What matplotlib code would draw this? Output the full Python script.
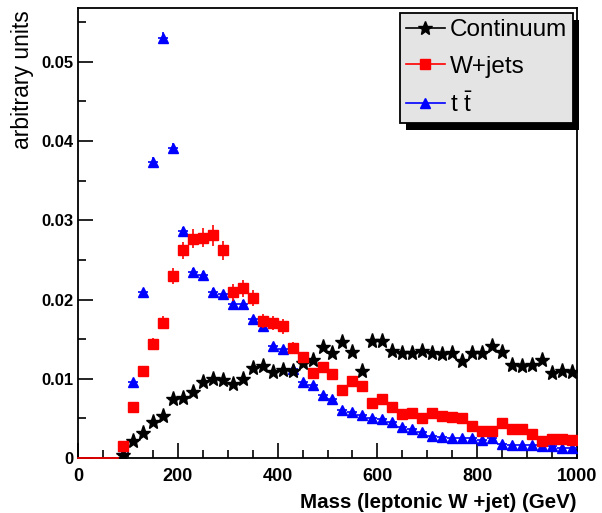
import numpy as np
import matplotlib
matplotlib.use("Agg")
import matplotlib.pyplot as plt
from matplotlib.lines import Line2D
from matplotlib.patches import Rectangle

plt.rcParams['font.family'] = ['Liberation Sans', 'DejaVu Sans']
plt.rcParams['mathtext.fontset'] = 'custom'
plt.rcParams['mathtext.rm'] = 'Liberation Sans'

# 20 GeV bins from 0 to 1000, first four bins are empty
bin_width = 20
mass = np.arange(90, 1000, 20)

continuum = [0.0004, 0.0021, 0.0032, 0.0046, 0.0053, 0.0075, 0.0076, 0.0083, 0.0096, 0.0100,
             0.0099, 0.0093, 0.0100, 0.0114, 0.0116, 0.0109, 0.0111, 0.0110, 0.0120, 0.0124,
             0.0140, 0.0132, 0.0146, 0.0134, 0.0110, 0.0148, 0.0148, 0.0135, 0.0133, 0.0133,
             0.0135, 0.0133, 0.0131, 0.0132, 0.0123, 0.0133, 0.0132, 0.0141, 0.0134, 0.0117,
             0.0116, 0.0117, 0.0124, 0.0107, 0.0110, 0.0109]

wjets = [0.0015, 0.0065, 0.0110, 0.0144, 0.0171, 0.0230, 0.0262, 0.0277, 0.0278, 0.0281,
         0.0262, 0.0209, 0.0214, 0.0202, 0.0173, 0.0170, 0.0166, 0.0139, 0.0127, 0.0107,
         0.0115, 0.0106, 0.0086, 0.0097, 0.0091, 0.0070, 0.0074, 0.0064, 0.0055, 0.0057,
         0.0051, 0.0057, 0.0053, 0.0052, 0.0051, 0.0041, 0.0034, 0.0034, 0.0044, 0.0037,
         0.0036, 0.0030, 0.0022, 0.0024, 0.0024, 0.0023]

wjets_err = [0.0003, 0.0005, 0.0006, 0.0007, 0.0008, 0.0010, 0.0011, 0.0012, 0.0012, 0.0013,
             0.0012, 0.0011, 0.0011, 0.0010, 0.0009, 0.0009, 0.0009, 0.0007, 0.0006, 0.0005,
             0.0005, 0.0005, 0.0004, 0.0004, 0.0004, 0.0004, 0.0003, 0.0003, 0.0003, 0.0003,
             0.0003, 0.0003, 0.0003, 0.0003, 0.0003, 0.0003, 0.0003, 0.0003, 0.0003, 0.0003,
             0.0003, 0.0003, 0.0003, 0.0003, 0.0003, 0.0003]

ttbar = [0.0015, 0.0096, 0.0209, 0.0373, 0.0530, 0.0391, 0.0286, 0.0235, 0.0231, 0.0210,
         0.0207, 0.0195, 0.0195, 0.0175, 0.0167, 0.0142, 0.0138, 0.0112, 0.0096, 0.0092,
         0.0080, 0.0075, 0.0061, 0.0058, 0.0054, 0.0051, 0.0049, 0.0045, 0.0039, 0.0036,
         0.0033, 0.0028, 0.0027, 0.0025, 0.0025, 0.0025, 0.0023, 0.0025, 0.0018, 0.0017,
         0.0016, 0.0016, 0.0015, 0.0015, 0.0013, 0.0012]

ttbar_err = [0.0002, 0.0003, 0.0004, 0.0007, 0.0008, 0.0007, 0.0006, 0.0005, 0.0005, 0.0004,
             0.0004, 0.0004, 0.0004, 0.0003, 0.0003, 0.0003, 0.0003, 0.0003, 0.0003, 0.0003,
             0.0002, 0.0002, 0.0002, 0.0002, 0.0002, 0.0002, 0.0002, 0.0002, 0.0002, 0.0002,
             0.0002, 0.0002, 0.0002, 0.0002, 0.0002, 0.0002, 0.0002, 0.0002, 0.0002, 0.0002,
             0.0002, 0.0002, 0.0002, 0.0002, 0.0002, 0.0002]

fig = plt.figure(figsize=(6.02, 5.13), dpi=100)
ax = fig.add_axes([78/602, 1-458/513, (577-78)/602, (458-8)/513])

# empty bins of the W+jets histogram
ax.plot([0, mass[0] - bin_width/2], [0, 0], color='red', lw=1.2, zorder=6, clip_on=False)

ax.errorbar(mass, ttbar, yerr=ttbar_err, xerr=bin_width/2, fmt='^', color='blue',
            ms=7, elinewidth=1.2, capsize=0, zorder=3)
ax.errorbar(mass, continuum, xerr=bin_width/2, fmt='*', color='black',
            ms=11, elinewidth=1.0, capsize=0, zorder=4)
ax.errorbar(mass, wjets, yerr=wjets_err, xerr=bin_width/2, fmt='s', color='red',
            ms=6.5, elinewidth=1.2, capsize=0, zorder=5)

ax.set_xlim(0, 1000)
ax.set_ylim(0, 0.0568)
ax.set_xticks(np.arange(0, 1001, 200))
ax.set_xticks(np.arange(0, 1001, 50), minor=True)
ax.set_yticks([0, 0.01, 0.02, 0.03, 0.04, 0.05])
ax.set_yticklabels(['0', '0.01', '0.02', '0.03', '0.04', '0.05'])
ax.set_yticks(np.arange(0, 0.056, 0.005), minor=True)
ax.tick_params(which='both', direction='in', top=False, right=False, width=1.2)
ax.tick_params(which='major', length=11)
ax.tick_params(which='minor', length=6)
ax.tick_params(axis='x', labelsize=13, pad=7)
ax.tick_params(axis='y', labelsize=12, pad=3)
for lab in ax.get_xticklabels() + ax.get_yticklabels():
    lab.set_fontweight('bold')
for sp in ax.spines.values():
    sp.set_linewidth(1.3)

fig.text(577/602, 1-508/513, 'Mass (leptonic W +jet) (GeV)', ha='right', va='baseline',
         fontsize=14.8, fontweight='bold')
fig.text(22/602, 1-10/513, 'arbitrary units', rotation=90, ha='center', va='top', fontsize=16.5)

handles = [Line2D([], [], color='black', marker='*', ms=10, lw=1.2),
           Line2D([], [], color='red', marker='s', ms=6.5, lw=1.2),
           Line2D([], [], color='blue', marker='^', ms=7, lw=1.2)]
labels = ['Continuum', 'W+jets', r't $\bar{\mathrm{t}}$']
leg = ax.legend(handles, labels, loc='upper right', bbox_to_anchor=(573/602, 1-13/513),
                bbox_transform=fig.transFigure, borderaxespad=0, fontsize=17.5,
                fancybox=False, framealpha=1, facecolor='#e4e4e4', edgecolor='black',
                handlelength=1.6, handletextpad=0.2, labelspacing=0.6, borderpad=0.25)
leg.get_frame().set_linewidth(1.3)
leg.set_zorder(10)

# solid drop shadow behind the legend box
fig.canvas.draw()
bb = leg.get_window_extent().transformed(ax.transAxes.inverted())
axw, axh = ax.bbox.width, ax.bbox.height
ax.add_patch(Rectangle((bb.x0 + 6/axw, bb.y0 - 7/axh), bb.width, bb.height,
                       transform=ax.transAxes, facecolor='black', edgecolor='none',
                       clip_on=False, zorder=9))

fig.savefig('out.png', dpi=100)
